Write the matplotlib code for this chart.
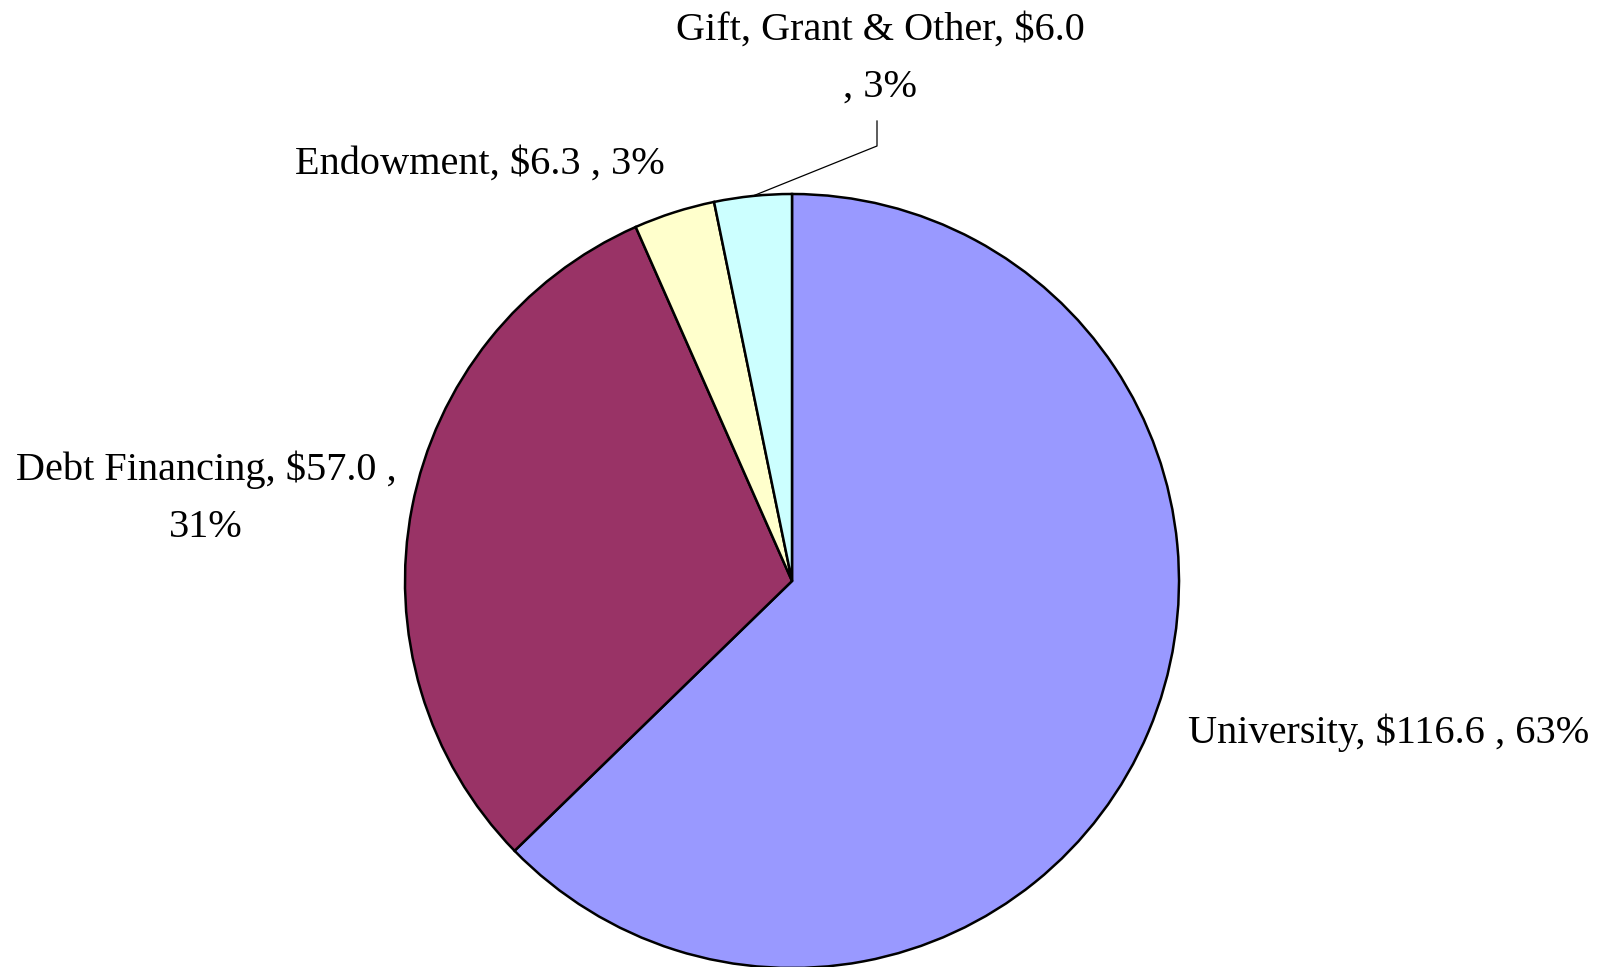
import matplotlib
matplotlib.use("Agg")
import matplotlib.pyplot as plt
import numpy as np

categories = ["University", "Debt Financing", "Endowment", "Gift, Grant & Other"]
values = [116.6, 57.0, 6.3, 6.0]
percents = ["63%", "31%", "3%", "3%"]
colors = ["#9999FF", "#993366", "#FFFFCC", "#CCFFFF"]

W, H = 1606, 967
fig = plt.figure(figsize=(W / 100, H / 100), dpi=100)
ax = fig.add_axes([0, 0, 1, 1])

cx, cy, r = 792, H - 581, 387
wedges, _ = ax.pie(values, colors=colors, startangle=90, counterclock=False,
                   center=(cx, cy), radius=r, frame=True,
                   wedgeprops=dict(edgecolor="black", linewidth=1.8))
ax.set_xlim(0, W)
ax.set_ylim(0, H)
ax.set_aspect("equal")
ax.axis("off")

font = dict(family="Liberation Serif", fontsize=29, color="black",
            ha="center", va="center", linespacing=1.72)

def lab(i):
    return f"{categories[i]}, ${values[i]:.1f} , {percents[i]}"

ax.text(1389, H - 733, lab(0), **font)
ax.text(206, H - 498, f"{categories[1]}, ${values[1]:.1f} ,\n{percents[1]}", **font)
ax.text(480, H - 164, lab(2), **font)
ax.text(880, H - 59, f"{categories[3]}, ${values[3]:.1f}\n, {percents[3]}", **font)

# leader line for the last wedge
w = wedges[3]
mid = np.deg2rad((w.theta1 + w.theta2) / 2)
ex, ey = cx + r * np.cos(mid), cy + r * np.sin(mid)
ax.plot([ex, 877, 877], [ey, H - 146, H - 121], color="black", linewidth=0.9)

fig.savefig("out.png", dpi=100, facecolor="white")
